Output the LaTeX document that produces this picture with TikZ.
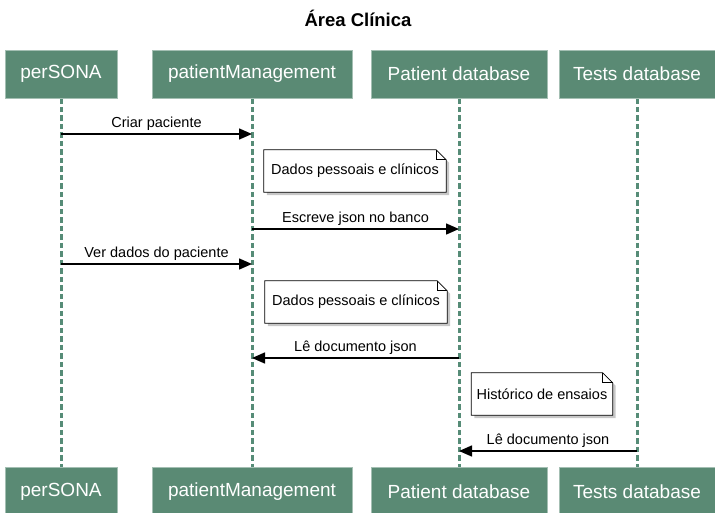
\documentclass[tikz,border=0pt]{standalone}
\usepackage{fontspec}
\setmainfont{Liberation Sans}
\usetikzlibrary{positioning}
\usetikzlibrary{arrows.meta}
\usetikzlibrary{backgrounds}
\definecolor{boxgreen}{HTML}{5A8A74}
\definecolor{lifegreen}{HTML}{568C77}

\begin{document}
\begin{tikzpicture}[x=1pt, y=-1pt, actor/.style={rectangle, fill=boxgreen, draw=boxgreen!55, line width=0.8pt, text=white, font=\fontsize{19}{22}\selectfont, minimum height=48pt, inner sep=0pt}, note/.style={font=\fontsize{14.5}{17}\selectfont, minimum height=42pt, inner sep=0pt}, msg/.style={-{Triangle[length=13pt,width=11pt]}, line width=1.5pt}, life/.style={lifegreen, line width=3pt, dash pattern=on 5.5pt off 3pt}, lbl/.style={font=\fontsize{14.5}{17}\selectfont, above, inner sep=2.5pt}]
	\useasboundingbox (0,0) rectangle (715,512);

	% title
	\node[font=\bfseries\fontsize{18.5}{22}\selectfont] (title) at (358,18) {Área Clínica};

	% nodes
	\node[actor, minimum width=112pt] (persona) at (61,74) {perSONA};
	\node[actor, minimum width=200pt] (patman) at (252,74) {patientManagement};
	\node[actor, minimum width=176pt] (patdb) at (459,74) {Patient database};
	\node[actor, minimum width=156pt] (testdb) at (637,74) {Tests database};

	\node[actor, minimum width=112pt, below=369pt of persona] (persona2) {perSONA};
	\node[actor, minimum width=200pt, below=369pt of patman] (patman2) {patientManagement};
	\node[actor, minimum width=176pt, below=369pt of patdb] (patdb2) {Patient database};
	\node[actor, minimum width=156pt, below=369pt of testdb] (testdb2) {Tests database};

	% notes
	\node[note, minimum width=182pt] (dados1) at (355,171) {Dados pessoais e clínicos};
	\node[note, minimum width=182pt] (dados2) at (356,302) {Dados pessoais e clínicos};
	\node[note, minimum width=141pt] (ensaios) at (542,394) {Histórico de ensaios};

	\begin{pgfonlayer}{background}
	% lifelines
	\draw[life] (persona) -- (persona2);
	\draw[life] (patman) -- (patman2);
	\draw[life] (patdb) -- (patdb2);
	\draw[life] (testdb) -- (testdb2);
	% note outlines
	\foreach \n in {dados1,dados2,ensaios} {
		\fill[black!22] ([xshift=3pt,yshift=-3pt]\n.south west) -- ([xshift=3pt,yshift=-3pt]\n.north west) -- ([xshift=-7pt,yshift=-3pt]\n.north east) -- ([xshift=3pt,yshift=-13pt]\n.north east) -- ([xshift=3pt,yshift=-3pt]\n.south east) -- cycle;
		\draw[fill=white, line width=0.8pt] (\n.south west) -- (\n.north west) -- ([xshift=-10pt]\n.north east) -- ([yshift=-10pt]\n.north east) -- (\n.south east) -- cycle;
		\draw[line width=0.8pt] ([xshift=-10pt]\n.north east) -- ([xshift=-10pt,yshift=-10pt]\n.north east) -- ([yshift=-10pt]\n.north east);
	}
	\end{pgfonlayer}

	% edges
	\coordinate (y1) at (0,134);
	\coordinate (y2) at (0,229);
	\coordinate (y3) at (0,264);
	\coordinate (y4) at (0,358);
	\coordinate (y5) at (0,451);
	\draw[msg] (persona |- y1) -- (patman |- y1) node[lbl, midway] {Criar paciente};
	\draw[msg] (patman |- y2) -- (patdb |- y2) node[lbl, midway] {Escreve json no banco};
	\draw[msg] (persona |- y3) -- (patman |- y3) node[lbl, midway] {Ver dados do paciente};
	\draw[msg] (patdb |- y4) -- (patman |- y4) node[lbl, midway] {Lê documento json};
	\draw[msg] (testdb |- y5) -- (patdb |- y5) node[lbl, midway] {Lê documento json};
\end{tikzpicture}
\end{document}
